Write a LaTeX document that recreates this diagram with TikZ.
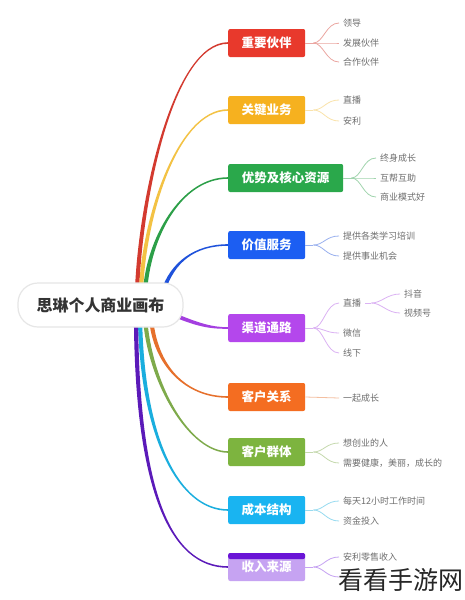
\documentclass[tikz,border=0pt]{standalone}
\usepackage{fontspec}
\setmainfont{Noto Sans CJK SC}
\usetikzlibrary{calc,backgrounds}
\definecolor{bRed}{HTML}{E8392C}\definecolor{lRed}{HTML}{D33A2F}
\definecolor{bAmb}{HTML}{F6B11F}\definecolor{lAmb}{HTML}{F3C244}
\definecolor{bGrn}{HTML}{2AA84B}\definecolor{lGrn}{HTML}{2C9F48}
\definecolor{bBlu}{HTML}{1C5EF2}\definecolor{lBlu}{HTML}{1F52DB}
\definecolor{bPur}{HTML}{B447EC}\definecolor{lPur}{HTML}{A43FE0}
\definecolor{bOrg}{HTML}{F46D21}\definecolor{lOrg}{HTML}{E6702C}
\definecolor{bLgr}{HTML}{7DB43F}\definecolor{lLgr}{HTML}{7EAA4B}
\definecolor{bCya}{HTML}{19B4F1}\definecolor{lCya}{HTML}{1AAEDE}
\definecolor{bLav}{HTML}{C6A3F2}\definecolor{lDpu}{HTML}{5B1AB9}
\definecolor{barDpu}{HTML}{6A14D6}
\definecolor{rootGray}{HTML}{E6E6E6}\definecolor{rootText}{HTML}{333333}
\definecolor{leafGray}{HTML}{6E6E6E}
\newcommand{\branch}[6]{\fill[#1] ($(#2)+(#6)$) .. controls ($(#4)+(#6)$) and ($(#3.west)+(-#5,0.8)$) .. ($(#3.west)+(0,0.8)$) -- ($(#3.west)+(0,-0.8)$) .. controls ($(#3.west)+(-#5,-0.8)$) and ($(#4)-(#6)$) .. ($(#2)-(#6)$) -- cycle;}
\newcommand{\forkto}[3]{\draw[leafline,#1] (#2) .. controls +(10,0) and +(-13,0) .. (#3);}
\begin{document}
\begin{tikzpicture}[x=1pt,y=-1pt,
  box/.style={rounded corners=2pt, minimum height=28pt, minimum width=77pt, text=white,
    font=\bfseries\fontsize{12.5}{14}\selectfont, anchor=west, inner sep=0pt},
  leaf/.style={anchor=west, inner xsep=4pt, inner ysep=1pt, text=leafGray,
    font=\fontsize{9}{10}\selectfont},
  root/.style={draw=rootGray, line width=1.2pt, fill=white, rounded corners=20pt,
    minimum width=165pt, minimum height=44pt, text=rootText,
    font=\bfseries\fontsize{16}{18}\selectfont},
  leafline/.style={line width=0.8pt}]
\useasboundingbox (0,0) rectangle (465,600);
% nodes
\node[root] (root) at (100.5,305) {思琳个人商业画布};
\node[box, fill=bRed] (b1) at (228,43) {重要伙伴};
\node[box, fill=bAmb] (b2) at (228,110) {关键业务};
\node[box, fill=bGrn, minimum width=115pt] (b3) at (228,178) {优势及核心资源};
\node[box, fill=bBlu] (b4) at (228,245) {价值服务};
\node[box, fill=bPur] (b5) at (228,328) {渠道通路};
\node[box, fill=bOrg] (b6) at (228,397) {客户关系};
\node[box, fill=bLgr] (b7) at (228,452) {客户群体};
\node[box, fill=bCya] (b8) at (228,510) {成本结构};
\node[box, fill=bLav, path picture={\fill[barDpu] (path picture bounding box.north west) rectangle ([yshift=-6pt]path picture bounding box.north east);}] (b9) at (228,567) {收入来源};
% start points of branches
\coordinate (s1) at (137,292);\coordinate (s2) at (141,292);\coordinate (s3) at (145,292);
\coordinate (s4) at (163,292);\coordinate (s5) at (172,314);\coordinate (s6) at (151,318);
\coordinate (s7) at (145,318);\coordinate (s8) at (140,318);\coordinate (s9) at (136,318);
\begin{scope}[on background layer]
\fill[white] (0,0) rectangle (465,600);
\branch{lRed}{s1}{b1}{140,200}{55}{2.1,0}
\branch{lAmb}{s2}{b2}{143,222}{52}{2.1,0}
\branch{lGrn}{s3}{b3}{148,240}{48}{2.1,0}
\branch{lBlu}{s4}{b4}{172,262}{33}{2.1,0}
\branch{lPur}{s5}{b5}{200,326}{15}{0,2.1}
\branch{lOrg}{s6}{b6}{155,365}{43}{-2.1,0}
\branch{lLgr}{s7}{b7}{150,385}{38}{-2.1,0}
\branch{lCya}{s8}{b8}{142,440}{48}{-2.1,0}
\branch{lDpu}{s9}{b9}{137,490}{58}{-2.1,0}
\end{scope}
% leaves
\node[leaf] (l11) at (339,23) {领导};
\node[leaf] (l12) at (339,43) {发展伙伴};
\node[leaf] (l13) at (339,62) {合作伙伴};
\node[leaf] (l21) at (339,100) {直播};
\node[leaf] (l22) at (339,121) {安利};
\node[leaf] (l31) at (376,158) {终身成长};
\node[leaf] (l32) at (376,178) {互帮互助};
\node[leaf] (l33) at (376,197) {商业模式好};
\node[leaf] (l41) at (339,236) {提供各类学习培训};
\node[leaf] (l42) at (339,256) {提供事业机会};
\node[leaf] (l51) at (339,303) {直播};
\node[leaf] (l52) at (339,333) {微信};
\node[leaf] (l53) at (339,353) {线下};
\node[leaf] (l511) at (400,294) {抖音};
\node[leaf] (l512) at (400,313) {视频号};
\node[leaf] (l61) at (339,398) {一起成长};
\node[leaf] (l71) at (339,443) {想创业的人};
\node[leaf] (l72) at (339,463) {需要健康，美丽，成长的};
\node[leaf] (l81) at (339,501) {每天12小时工作时间};
\node[leaf] (l82) at (339,521) {资金投入};
\node[leaf] (l91) at (339,557) {安利零售收入};
\coordinate (l92) at (339,577);
% fork points
\coordinate (f1) at ($(b1.east)+(8,0)$);
\coordinate (f2) at ($(b2.east)+(8,0)$);
\coordinate (f3) at ($(b3.east)+(8,0)$);
\coordinate (f4) at ($(b4.east)+(8,0)$);
\coordinate (f5) at ($(b5.east)+(8,0)$);
\coordinate (f51) at ($(l51.east)+(6,0)$);
\coordinate (f7) at ($(b7.east)+(8,0)$);
\coordinate (f8) at ($(b8.east)+(8,0)$);
\coordinate (f9) at ($(b9.east)+(8,0)$);
\draw[leafline,lRed!45] (b1.east) -- (f1);
\forkto{lRed!45}{f1}{l11.west}\forkto{lRed!45}{f1}{l12.west}\forkto{lRed!45}{f1}{l13.west}
\draw[leafline,lAmb!45] (b2.east) -- (f2);
\forkto{lAmb!45}{f2}{l21.west}\forkto{lAmb!45}{f2}{l22.west}
\draw[leafline,lGrn!45] (b3.east) -- (f3);
\forkto{lGrn!45}{f3}{l31.west}\forkto{lGrn!45}{f3}{l32.west}\forkto{lGrn!45}{f3}{l33.west}
\draw[leafline,lBlu!45] (b4.east) -- (f4);
\forkto{lBlu!45}{f4}{l41.west}\forkto{lBlu!45}{f4}{l42.west}
\draw[leafline,lPur!40] (b5.east) -- (f5);
\forkto{lPur!40}{f5}{l51.west}\forkto{lPur!40}{f5}{l52.west}\forkto{lPur!40}{f5}{l53.west}
\draw[leafline,lPur!40] (l51.east) -- (f51);
\forkto{lPur!40}{f51}{l511.west}\forkto{lPur!40}{f51}{l512.west}
\draw[leafline,lOrg!45] (b6.east) -- (l61.west);
\draw[leafline,lLgr!45] (b7.east) -- (f7);
\forkto{lLgr!45}{f7}{l71.west}\forkto{lLgr!45}{f7}{l72.west}
\draw[leafline,lCya!45] (b8.east) -- (f8);
\forkto{lCya!45}{f8}{l81.west}\forkto{lCya!45}{f8}{l82.west}
\draw[leafline,bLav] (b9.east) -- (f9);
\forkto{bLav}{f9}{l91.west}\forkto{bLav}{f9}{l92}
% watermark
\node[font=\fontsize{25}{25}\selectfont, text=black!85, inner sep=0pt] (wm) at (401,580) {看看手游网};
\end{tikzpicture}
\end{document}
